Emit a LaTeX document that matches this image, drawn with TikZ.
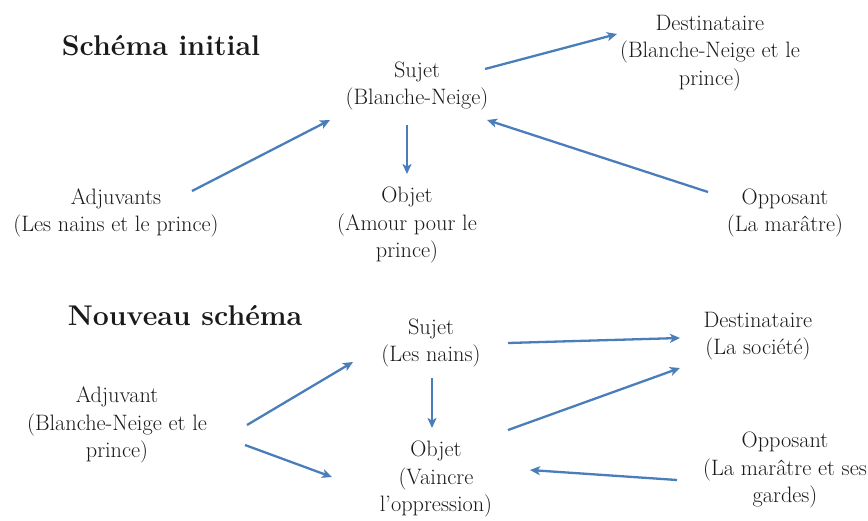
\documentclass[tikz,border=0pt]{standalone}
\usetikzlibrary{arrows.meta,calc}
\definecolor{arrowblue}{HTML}{4A7EBB}
\definecolor{txt}{HTML}{1A1A1A}
\begin{document}
\begin{tikzpicture}[x=1pt,y=-1pt,
  lbl/.style={align=center, inner sep=0pt, text=txt, font=\fontsize{22.3}{27.5}\selectfont},
  ttl/.style={inner sep=0pt, text=txt, font=\fontsize{28.5}{33}\selectfont\bfseries},
  arr/.style={draw=arrowblue, line width=2.3pt, -{Stealth[length=10pt,width=9pt,inset=2.5pt]}}]
\useasboundingbox[fill=white] (0,0) rectangle (868,520);

% Schéma initial
\node[ttl] (T1) at (161,46) {Schéma initial};
\node[lbl] (S1) at (417,86) {Sujet\\(Blanche-Neige)};
\node[lbl] (D1) at (710,53) {Destinataire\\(Blanche-Neige et le\\prince)};
\node[lbl] (A1) at (116,213) {Adjuvants\\(Les nains et le prince)};
\node[lbl] (O1) at (407,225) {Objet\\(Amour pour le\\prince)};
\node[lbl] (P1) at (785,213) {Opposant\\(La marâtre)};

\draw[arr] ($(A1)+(76,-22)$) -- ($(S1)+(-87,34)$);
\draw[arr] ($(S1)+(-10,39)$) -- ($(O1)+(0,-51)$);
\draw[arr] ($(S1)+(68,-17)$) -- ($(D1)+(-93,-19)$);
\draw[arr] ($(P1)+(-77,-21)$) -- ($(S1)+(70,34)$);

% Nouveau schéma
\node[ttl] (T2) at (185,316) {Nouveau schéma};
\node[lbl] (S2) at (431,343) {Sujet\\(Les nains)};
\node[lbl] (D2) at (758,336) {Destinataire\\(La société)};
\node[lbl] (A2) at (117,425) {Adjuvant\\(Blanche-Neige et le\\prince)};
\node[lbl] (O2) at (436,479) {Objet\\(Vaincre\\l’oppression)};
\node[lbl] (P2) at (785,470) {Opposant\\(La marâtre et ses\\gardes)};

\draw[arr] ($(A2)+(130,0)$) -- ($(S2)+(-78,19)$);
\draw[arr] ($(A2)+(128,20)$) -- ($(O2)+(-104,-2)$);
\draw[arr] ($(S2)+(1,35)$) -- ($(O2)+(-4,-51)$);
\draw[arr] ($(S2)+(77,0)$) -- ($(D2)+(-78,2)$);
\draw[arr] ($(O2)+(72,-49)$) -- ($(D2)+(-78,32)$);
\draw[arr] ($(P2)+(-108,10)$) -- ($(O2)+(94,-9)$);
\end{tikzpicture}
\end{document}
